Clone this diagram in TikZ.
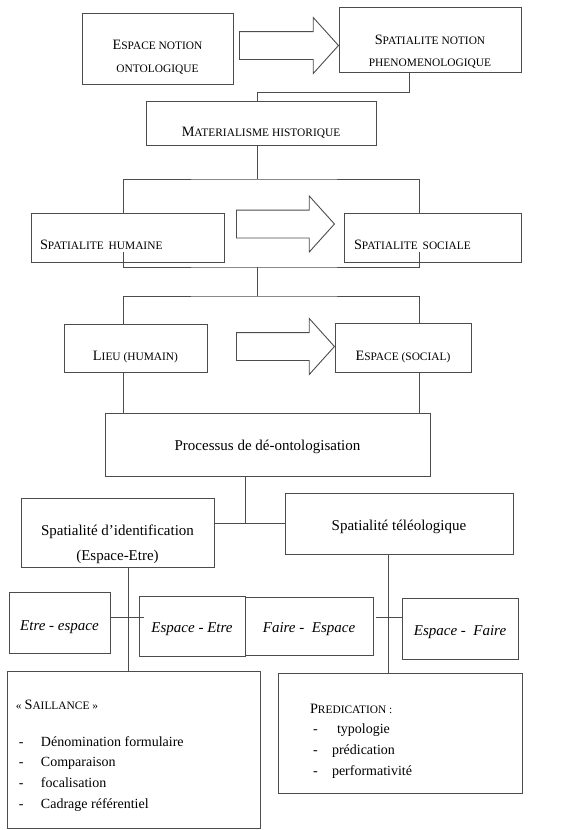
\documentclass[tikz,border=0pt]{standalone}
\usepackage{fontspec}
\setmainfont{Liberation Serif}
\usetikzlibrary{shapes.arrows}

% 擬似スモールキャップス
\newcommand\pc[1]{{\fontsize{11.4}{14}\selectfont #1}}
% 文字を下へずらす
\newcommand\bas[2]{\raisebox{-#1}[\height][\depth]{#2}}
% 箇条書きのダッシュ
\newcommand\tiret[2]{\makebox[#1][l]{-}#2}

\begin{document}
\begin{tikzpicture}[x=1pt,y=-1pt,inner sep=0pt,
    boite/.style={draw=black!70,line width=.9pt,rectangle,align=center},
    majus/.style={font=\fontsize{14.3}{23}\selectfont},
    texte/.style={font=\fontsize{15}{25}\selectfont},
    ital/.style={font=\fontsize{15}{18}\selectfont\itshape},
    liste/.style={font=\fontsize{14}{20.7}\selectfont},
    fleche/.style={single arrow,draw=black!70,line width=.9pt,anchor=tail,
      inner ysep=13.5pt,minimum width=55pt,single arrow head extend=14pt,
      single arrow tip angle=96},
    lien/.style={draw=black!70,line width=.9pt}]

      % バウンディングボックス
      \useasboundingbox (0,0) rectangle (575,830);

      % 座標確認用グリッド
      %\draw[step=10,lightgray] (0,0) grid (575,830);

      \coordinate (colL) at (123,0);
      \coordinate (colR) at (419,0);

      \node[boite,majus,minimum width=151pt,minimum height=71pt] (onto) at (157.5,48.5){%
        \bas{8pt}{\begin{tabular}{@{}c@{}}E\pc{SPACE NOTION}\\ \pc{ONTOLOGIQUE}\end{tabular}}};
      \node[boite,majus,font=\fontsize{14.3}{22}\selectfont,%
        minimum width=182pt,minimum height=65pt] (pheno) at (430,39.5){%
        \bas{11.5pt}{\begin{tabular}{@{}c@{}}S\pc{PATIALITE NOTION}\\ \pc{PHENOMENOLOGIQUE}\end{tabular}}};
      \node[fleche,minimum height=99pt] (fl1) at (239,45.5){};

      \node[boite,majus,minimum width=230pt,minimum height=44pt] (mat) at (261,123){%
        \bas{10pt}{M\pc{ATERIALISME HISTORIQUE}}};

      \node[boite,majus,minimum width=193pt,minimum height=49pt,%
        text width=175pt,align=left] (human) at (127.5,237.5){%
        \bas{7.5pt}{S\pc{PATIALITE HUMAINE}}};
      \node[boite,majus,minimum width=177pt,minimum height=49pt,%
        text width=157pt,align=left] (social) at (432.5,237.5){%
        \bas{7.5pt}{S\pc{PATIALITE SOCIALE}}};
      \node[fleche,minimum height=98pt] (fl2) at (236,224){};

      \node[boite,majus,minimum width=143pt,minimum height=48pt] (lieu) at (135.5,348){%
        \bas{9pt}{L\pc{IEU (HUMAIN)}}};
      \node[boite,majus,minimum width=136pt,minimum height=49pt] (espsoc) at (403,347.5){%
        \bas{9.5pt}{E\pc{SPACE (SOCIAL)}}};
      \node[fleche,minimum height=98pt] (fl3) at (236,346.5){};

      \node[boite,texte,minimum width=325pt,minimum height=63pt] (proc) at (267.5,444.5){%
        \bas{2.5pt}{Processus de dé-ontologisation}};

      \node[boite,texte,minimum width=193pt,minimum height=69pt] (ident) at (117.5,532.5){%
        \bas{10pt}{\begin{tabular}{@{}c@{}}Spatialité d’identification\\(Espace-Etre)\end{tabular}}};
      \node[boite,texte,minimum width=228pt,minimum height=61pt] (teleo) at (399,523.5){%
        \bas{3.5pt}{Spatialité téléologique}};

      \node[boite,ital,minimum width=101pt,minimum height=61pt] (etre) at (59.5,622.5){%
        \bas{4.5pt}{Etre - espace}};
      \node[boite,ital,minimum width=106pt,minimum height=60pt] (espetre) at (192,626){%
        \bas{3pt}{Espace - Etre}};
      \node[boite,ital,minimum width=128pt,minimum height=58pt] (faire) at (309,626){%
        \bas{3pt}{Faire - \ Espace}};
      \node[boite,ital,minimum width=116pt,minimum height=61pt] (espfaire) at (460,628.5){%
        \bas{3.5pt}{Espace - \ Faire}};

      \node[boite,liste,minimum width=253pt,minimum height=157pt] (sail) at (133.5,749.5){%
        \bas{5.4pt}{\makebox[235pt][l]{\begin{tabular}{@{}l@{}}
          {\fontsize{14.3}{22}\selectfont\pc{« }S\pc{AILLANCE »}}\\[15.3pt]
          \hspace*{3pt}\tiret{22pt}{Dénomination formulaire}\\
          \hspace*{3pt}\tiret{22pt}{Comparaison}\\
          \hspace*{3pt}\tiret{22pt}{focalisation}\\
          \hspace*{3pt}\tiret{22pt}{Cadrage référentiel}
        \end{tabular}}}};
      \node[boite,liste,minimum width=244pt,minimum height=120pt] (pred) at (400,733){%
        \bas{6.9pt}{\makebox[180pt][l]{\begin{tabular}{@{}l@{}}
          {\fontsize{14.3}{21}\selectfont P\pc{REDICATION :}}\\
          \hspace*{3pt}\tiret{19pt}{\hspace*{5pt}typologie}\\
          \hspace*{3pt}\tiret{19pt}{prédication}\\
          \hspace*{3pt}\tiret{19pt}{performativité}
        \end{tabular}}}};

      % 接続線
      \draw[lien] ([xshift=-21pt]pheno.south) -- ++(0,20) -| ([xshift=-4pt]mat.north);

      \coordinate (bar1) at (257,179);
      \draw[lien] ([xshift=-4pt]mat.south) -- (bar1);
      \draw[lien] (human.north -| colL) |- (bar1) -| (social.north -| colR);

      \coordinate (bar2) at (257,267);
      \coordinate (bar3) at (257,296);
      \draw[lien] ([yshift=10pt]human.south -| colL) |- (bar2) -| ([yshift=10pt]social.south -| colR);
      \draw[lien] (bar2) -- (bar3);
      \draw[lien] (lieu.north -| colL) |- (bar3) -| (espsoc.north -| colR);

      \draw[lien] (lieu.south -| colL) -- (proc.north -| colL);
      \draw[lien] (espsoc.south -| colR) -- (proc.north -| colR);

      \coordinate (noeud) at (245,523);
      \draw[lien] (proc.south -| noeud) -- (noeud);
      \draw[lien] (ident.east |- noeud) -- (teleo.west |- noeud);

      \coordinate (axeG) at (128,617);
      \draw[lien] (ident.south -| axeG) -- (sail.north -| axeG);
      \draw[lien] (etre.east |- axeG) -- ([xshift=5pt]espetre.west |- axeG);

      \coordinate (axeD) at (388,617);
      \draw[lien] (teleo.south -| axeD) -- (pred.north -| axeD);
      \draw[lien] ([xshift=3pt]faire.east |- axeD) -- (espfaire.west |- axeD);

      % バウンディングボックス確認用
      %\fill[green, opacity=0.2](current bounding box.south west)
      %rectangle (current bounding box.north east);
    \end{tikzpicture}
\end{document}
